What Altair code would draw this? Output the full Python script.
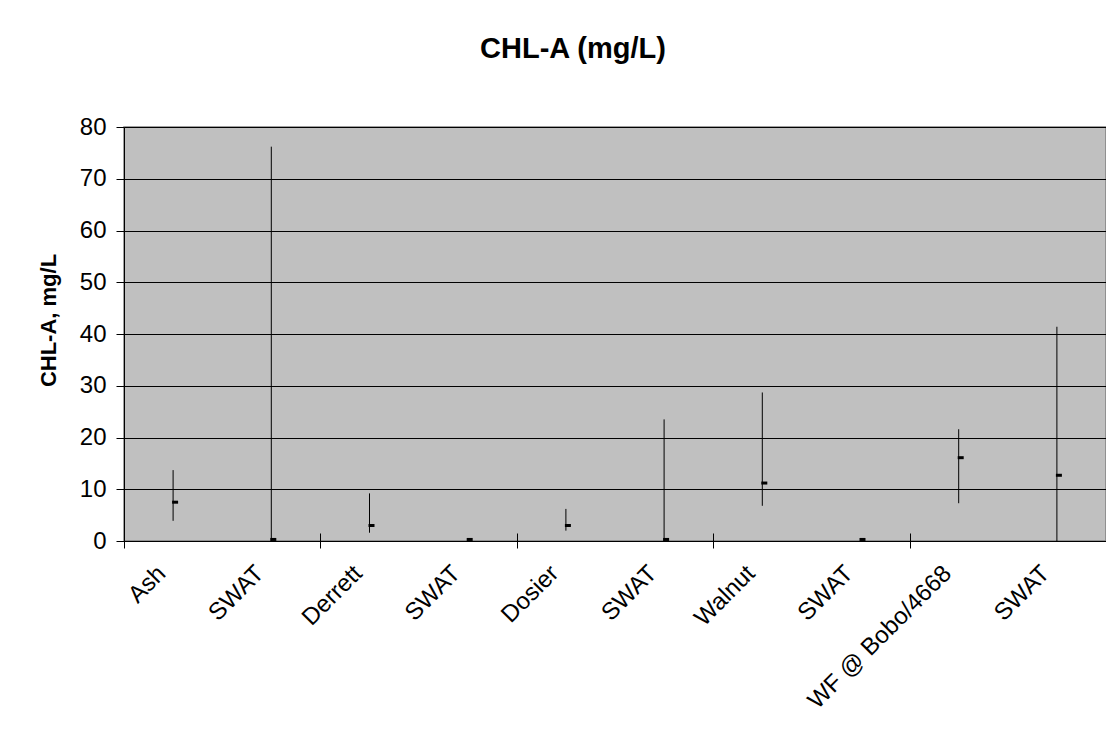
import altair as alt
import pandas as pd

categories = ["Ash", "SWAT", "Derrett", "SWAT", "Dosier", "SWAT",
              "Walnut", "SWAT", "WF @ Bobo/4668", "SWAT"]
high_vals = [13.7, 76.2, 9.2, 0.5, 6.2, 23.5, 28.7, 0.5, 21.6, 41.4]
low_vals = [3.9, 0.0, 1.6, 0.2, 2.0, 0.0, 6.8, 0.2, 7.3, 0.0]
avg_vals = [7.5, 0.3, 3.0, 0.3, 3.0, 0.3, 11.2, 0.3, 16.1, 12.7]
y_ticks = [0, 10, 20, 30, 40, 50, 60, 70, 80]
group_bounds = [0, 2, 4, 6, 8, 10]

df = pd.DataFrame({
    "pos": [i + 0.5 for i in range(len(categories))],
    "site": categories,
    "high": high_vals,
    "low": low_vals,
    "avg": avg_vals,
})

FONT = "Liberation Sans"
label_js = "[" + ",".join("'" + c + "'" for c in categories) + "]"

xscale = alt.Scale(domain=[0, len(categories)], nice=False, zero=False)
yscale = alt.Scale(domain=[0, 80], nice=False)

x_label_axis = alt.Axis(
    orient="bottom", values=list(df["pos"]), labelExpr=label_js + "[floor(datum.value)]",
    ticks=False, tickSize=0, grid=False, domain=True, domainColor="black", domainWidth=1,
    labelAngle=315, labelAlign="right", labelBaseline="top", labelPadding=20,
    labelOffset=-20, labelFontSize=24, labelFont=FONT, labelColor="black",
    labelOverlap=False, labelBound=False, labelFlush=False, labelLimit=0, title=None,
)
x_tick_axis = alt.Axis(
    orient="bottom", values=group_bounds, labels=False, ticks=True, tickSize=15,
    tickColor="black", tickWidth=1, domain=False, grid=False, offset=-8, title=None,
)
y_axis = alt.Axis(
    values=y_ticks, grid=True, gridColor="black", gridWidth=1, gridOpacity=1,
    tickSize=8, tickColor="black", domainColor="black", domainWidth=1,
    labelFontSize=24, labelFont=FONT, labelColor="black", labelPadding=10,
    title="CHL-A, mg/L", titleFont=FONT, titleFontSize=22, titleFontWeight="bold",
    titleColor="black", titleAngle=270, titleX=-76, titleY=193,
    titleAlign="center", titleBaseline="middle",
)

rules = alt.Chart(df).mark_rule(color="black", strokeWidth=1).encode(
    x=alt.X("pos:Q", scale=xscale, axis=x_label_axis),
    y=alt.Y("low:Q", scale=yscale, axis=y_axis),
    y2="high:Q",
)

marks = alt.Chart(df).mark_point(
    shape="M-1,-0.5L1,-0.5L1,0.5L-1,0.5Z", filled=True, color="black",
    size=36, opacity=1, xOffset=2,
).encode(
    x=alt.X("pos:Q", scale=xscale, axis=x_tick_axis),
    y=alt.Y("avg:Q", scale=yscale),
)

chart = alt.layer(rules, marks).resolve_axis(x="independent").properties(
    width=982,
    height=414,
    background="white",
    autosize=alt.AutoSizeParams(type="none"),
    padding={"left": 116, "top": 119, "right": 0, "bottom": 197},
    title=alt.TitleParams(
        "CHL-A (mg/L)", font=FONT, fontSize=29, fontWeight="bold", color="black",
        anchor="middle", frame="group", dx=-42, offset=28, baseline="alphabetic",
    ),
).configure_view(
    fill="#C0C0C0", stroke="#808080", strokeWidth=1.5,
)

chart.save("out.html", embed_options={"renderer": "svg", "actions": False})
